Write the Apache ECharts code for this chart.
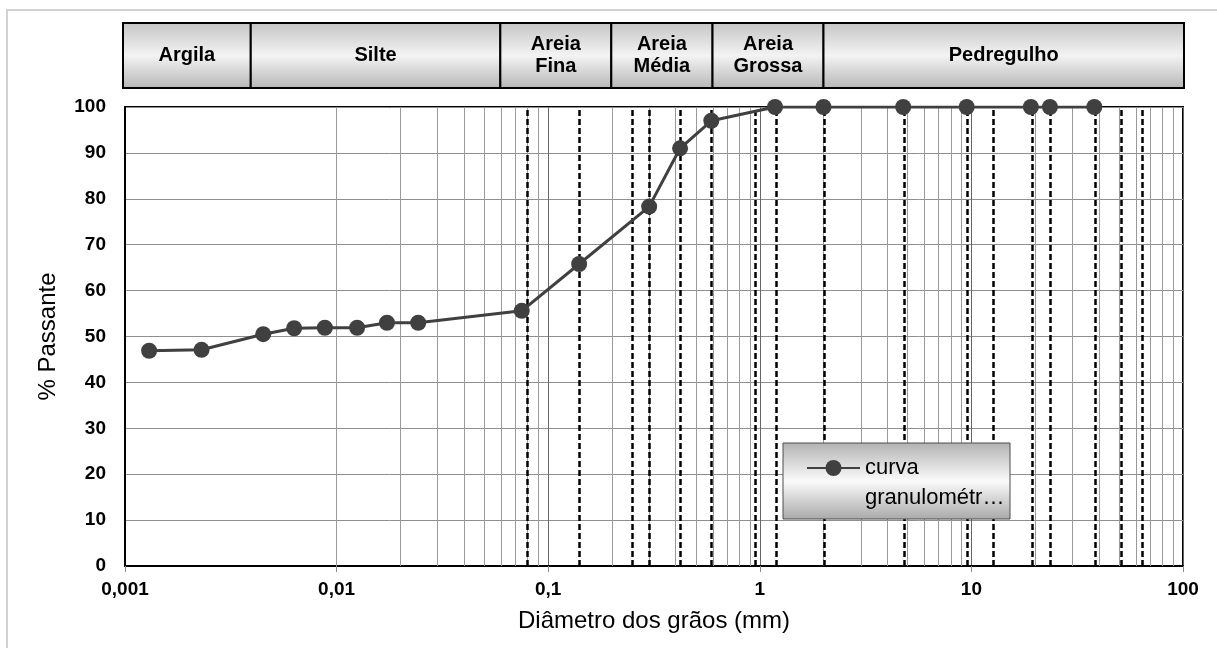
<!DOCTYPE html>
<html>
<head>
<meta charset="utf-8">
<script src="https://cdn.jsdelivr.net/npm/echarts@6/dist/echarts.min.js"></script>
<style>
  html, body { margin: 0; padding: 0; background: #ffffff; }
  #chart { width: 1217px; height: 648px; }
</style>
</head>
<body>
<div id="chart"></div>
<script>
// Curva granulométrica: diâmetro (mm) x % passante
const diameters = [0.0013, 0.0023, 0.0045, 0.0063, 0.0088, 0.0125, 0.0173, 0.0243,
                   0.075, 0.14, 0.3, 0.42, 0.59, 1.18, 2.0, 4.76, 9.5, 19.1, 23.5, 38.1];
const passing   = [46.9, 47.1, 50.5, 51.8, 51.9, 51.9, 53.0, 53.0,
                   55.6, 65.8, 78.3, 91.0, 97.0, 100, 100, 100, 100, 100, 100, 100];

// Aberturas das peneiras (linhas tracejadas)
const sieveOpenings = [0.076, 0.14, 0.2525, 0.297, 0.423, 0.593, 0.95, 1.19, 2.02,
                       4.8, 9.6, 12.7, 19.3, 23.5, 38.4, 51.3, 64.3];

// Faixas granulométricas do cabeçalho
const fractionLimits = [0.001, 0.004, 0.06, 0.2, 0.6, 2, 100];
const fractionNames  = ['Argila', 'Silte', 'Areia\nFina', 'Areia\nMédia', 'Areia\nGrossa', 'Pedregulho'];

// Eixos
const xTickValues = [0.001, 0.01, 0.1, 1, 10, 100];
const xTickLabels = ['0,001', '0,01', '0,1', '1', '10', '100'];
const minorDecades = [0.001, 0.01, 0.1, 1, 10];
const minorMultipliers = [2, 3, 4, 5, 6, 7, 8, 9];

const seriesName = 'curva granulométrica';
// first line left empty so the symbol sits beside "curva"
const legendText = '\ncurva\ngranulométr…';

const FONT = '"Liberation Sans", Arial, sans-serif';

const points = diameters.map((d, i) => [d, passing[i]]);

const gridLines = [];
minorDecades.forEach(d => minorMultipliers.forEach(m => {
  gridLines.push({ xAxis: +(d * m).toPrecision(6),
                   lineStyle: { color: '#9a9a9a', width: 1, type: 'solid' } });
}));
const sieveLines = sieveOpenings.map(v => ({
  xAxis: v, lineStyle: { color: '#000000', width: 2.5, type: [6, 3] }
}));

function xLabel(v) {
  for (let i = 0; i < xTickValues.length; i++) {
    if (Math.abs(Math.log10(v) - Math.log10(xTickValues[i])) < 1e-6) return xTickLabels[i];
  }
  return '';
}

const headerFill = new echarts.graphic.LinearGradient(0, 0, 0, 1, [
  { offset: 0, color: '#c4c4c4' },
  { offset: 0.5, color: '#f3f3f3' },
  { offset: 1, color: '#b6b6b6' }
]);
const legendFill = new echarts.graphic.LinearGradient(0, 0, 0, 1, [
  { offset: 0, color: '#b2b2b2' },
  { offset: 0.5, color: '#fbfbfb' },
  { offset: 1, color: '#a9a9a9' }
]);

const chart = echarts.init(document.getElementById('chart'), null, { renderer: 'canvas' });

chart.setOption({
  animation: false,
  backgroundColor: '#ffffff',
  textStyle: { fontFamily: FONT },
  graphic: [
    // chart-area frame (top and left edges fall inside the page)
    { type: 'polyline', z: 0, silent: true,
      shape: { points: [[7, 650], [7, 10], [1220, 10]] },
      style: { fill: 'none', stroke: '#d2d2d2', lineWidth: 2 } },
    { type: 'rect', z: 10, silent: true,
      shape: { x: 783, y: 443, width: 227, height: 76 },
      style: { fill: legendFill, stroke: '#4d4d4d', lineWidth: 1 } }
  ],
  legend: {
    z: 20,
    left: 806,
    top: 423,
    padding: 0,
    itemWidth: 53,
    itemHeight: 20,
    selectedMode: false,
    formatter: () => legendText,
    textStyle: { fontFamily: FONT, fontSize: 22, color: '#000', lineHeight: 30 },
    data: [seriesName]
  },
  grid: [
    { left: 125, right: 34, top: 107, height: 459, show: true,
      borderColor: '#000', borderWidth: 2, backgroundColor: 'transparent' },
    { left: 123, right: 33, top: 23, height: 65 }
  ],
  xAxis: [
    { type: 'log', logBase: 10, min: 0.001, max: 100, gridIndex: 0,
      axisLine: { lineStyle: { color: '#000', width: 2 } },
      axisTick: { show: true, length: 6, lineStyle: { color: '#8c8c8c' } },
      axisLabel: { formatter: xLabel, fontFamily: FONT, fontSize: 19, fontWeight: 'bold',
                   color: '#000', margin: 14 },
      splitLine: { show: true, lineStyle: { color: '#666666', width: 1 } },
      minorTick: { show: false }, minorSplitLine: { show: false },
      name: 'Diâmetro dos grãos (mm)', nameLocation: 'middle', nameGap: 43,
      nameMoveOverlap: false,
      nameTextStyle: { fontFamily: FONT, fontSize: 24, color: '#000' } },
    { type: 'log', logBase: 10, min: 0.001, max: 100, gridIndex: 1, show: false }
  ],
  yAxis: [
    { type: 'value', min: 0, max: 100, interval: 10, gridIndex: 0,
      axisLine: { show: true, lineStyle: { color: '#000', width: 2 } },
      axisTick: { show: false },
      axisLabel: { fontFamily: FONT, fontSize: 19, fontWeight: 'bold', color: '#000', margin: 19 },
      splitLine: { show: true, lineStyle: { color: '#8f8f8f', width: 1 } },
      name: '% Passante', nameLocation: 'middle', nameGap: 65,
      nameMoveOverlap: false,
      nameTextStyle: { fontFamily: FONT, fontSize: 24, color: '#000' } },
    { type: 'value', min: 0, max: 1, gridIndex: 1, show: false }
  ],
  series: [
    {
      name: seriesName,
      type: 'line',
      xAxisIndex: 0, yAxisIndex: 0,
      z: 5,
      data: points,
      symbol: 'circle',
      symbolSize: 16,
      lineStyle: { color: '#404040', width: 3 },
      itemStyle: { color: '#404040' },
      markLine: {
        z: 1,
        silent: true,
        symbol: ['none', 'none'],
        label: { show: false },
        emphasis: { disabled: true },
        data: gridLines.concat(sieveLines)
      }
    },
    {
      name: 'faixas',
      type: 'custom',
      xAxisIndex: 1, yAxisIndex: 1,
      silent: true,
      data: fractionNames.map((n, i) => [fractionLimits[i], fractionLimits[i + 1], i]),
      encode: { x: [0, 1] },
      renderItem: (params, api) => {
        const p0 = api.coord([api.value(0), 1]);
        const p1 = api.coord([api.value(1), 0]);
        return {
          type: 'group',
          children: [
            { type: 'rect',
              shape: { x: p0[0], y: p0[1], width: p1[0] - p0[0], height: p1[1] - p0[1] },
              style: { fill: headerFill, stroke: '#000', lineWidth: 2 } },
            { type: 'text',
              style: { text: fractionNames[api.value(2)],
                       x: (p0[0] + p1[0]) / 2, y: (p0[1] + p1[1]) / 2,
                       align: 'center', verticalAlign: 'middle',
                       fontFamily: FONT, fontSize: 20, fontWeight: 'bold',
                       lineHeight: 22, fill: '#000' } }
          ]
        };
      }
    }
  ]
});
</script>
</body>
</html>
